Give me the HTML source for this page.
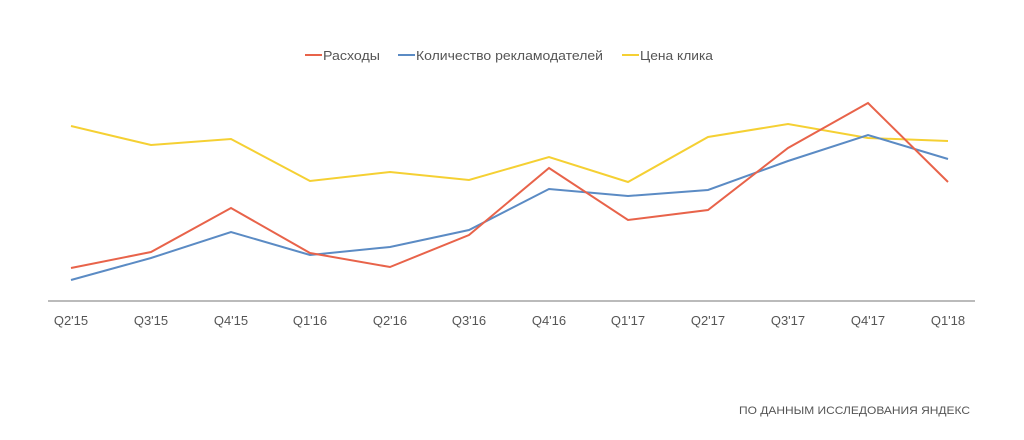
<!DOCTYPE html>
<html><head><meta charset="utf-8"><style>
html,body{margin:0;padding:0;background:#fff;}
svg{display:block;font-family:"Liberation Sans","DejaVu Sans",sans-serif;}
</style></head><body>
<svg width="1024" height="440" viewBox="0 0 1024 440">
<g font-size="13" fill="#555">
<line x1="305" y1="55" x2="322" y2="55" stroke="#e8634a" stroke-width="2"/>
<text x="323" y="60" textLength="57" lengthAdjust="spacingAndGlyphs">Расходы</text>
<line x1="398" y1="55" x2="415" y2="55" stroke="#5b8bc4" stroke-width="2"/>
<text x="416" y="60" textLength="187" lengthAdjust="spacingAndGlyphs">Количество рекламодателей</text>
<line x1="622" y1="55" x2="639" y2="55" stroke="#f5d033" stroke-width="2"/>
<text x="640" y="60" textLength="73" lengthAdjust="spacingAndGlyphs">Цена клика</text>
</g>
<line x1="48" y1="301" x2="975" y2="301" stroke="#777" stroke-width="1"/>
<polyline fill="none" stroke="#f5d033" stroke-width="2" points="71,126 151,145 231,139 310,181 390,172 469,180 549,157 628,182 708,137 788,124 868,138 948,141"/>
<polyline fill="none" stroke="#5b8bc4" stroke-width="2" points="71,280 151,258 231,232 310,255 390,247 469,230 549,189 628,196 708,190 788,161 868,135 948,159"/>
<polyline fill="none" stroke="#e8634a" stroke-width="2" points="71,268 151,252 231,208 310,253 390,267 469,235 549,168 628,220 708,210 788,148 868,103 948,182"/>
<g font-size="13" fill="#555" text-anchor="middle">
<text x="71" y="325">Q2'15</text><text x="151" y="325">Q3'15</text><text x="231" y="325">Q4'15</text><text x="310" y="325">Q1'16</text><text x="390" y="325">Q2'16</text><text x="469" y="325">Q3'16</text><text x="549" y="325">Q4'16</text><text x="628" y="325">Q1'17</text><text x="708" y="325">Q2'17</text><text x="788" y="325">Q3'17</text><text x="868" y="325">Q4'17</text><text x="948" y="325">Q1'18</text>
</g>
<text x="970" y="414" font-size="11" fill="#555" text-anchor="end" textLength="231" lengthAdjust="spacingAndGlyphs">ПО ДАННЫМ ИССЛЕДОВАНИЯ ЯНДЕКС</text>
</svg>
</body></html>
